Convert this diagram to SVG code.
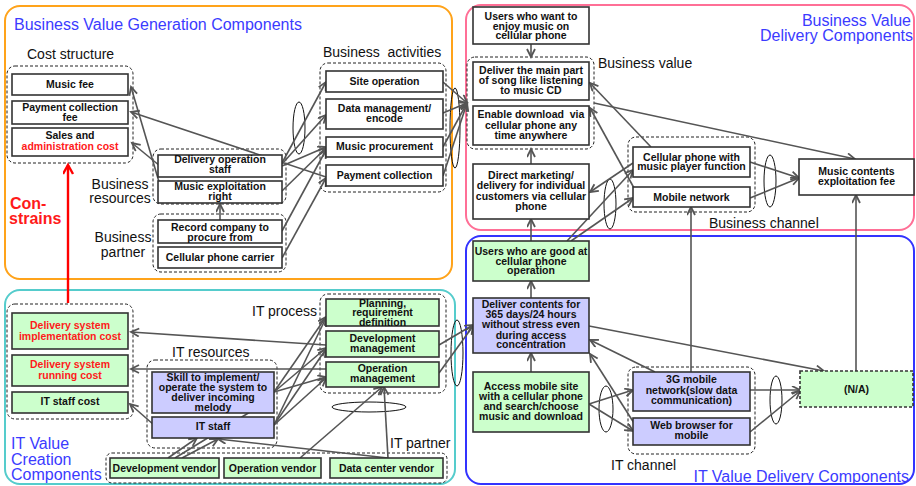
<svg xmlns="http://www.w3.org/2000/svg" width="916" height="486" viewBox="0 0 916 486">
<style>
.frame{fill:#fff;stroke-width:2}
.grp{fill:none;stroke:#222;stroke-width:1;stroke-dasharray:3,2}
.box{fill:#fff;stroke:#333;stroke-width:1.6}
.gr{fill:#ccffcc}
.bl{fill:#ccccff}
.t{font-family:"Liberation Sans",Arial,sans-serif;font-weight:bold;font-size:10.5px;text-anchor:middle;fill:#111}
.red{fill:#ff1a1a}
.lbl{font-family:"Liberation Sans",Arial,sans-serif;font-size:14px;fill:#111}
.ttl{font-family:"Liberation Sans",Arial,sans-serif;font-size:16px;fill:#3b3bff}
.c{fill:none;stroke:#555;stroke-width:1.6}
.e{fill:none;stroke:#111;stroke-width:1}
</style>
<defs>
<marker id="a" markerUnits="userSpaceOnUse" markerWidth="12" markerHeight="12" refX="9" refY="4.5" orient="auto">
<path d="M1,0.5 L9,4.5 L1,8.5" fill="none" stroke="#555" stroke-width="1.8"/>
</marker>
<marker id="ar" markerUnits="userSpaceOnUse" markerWidth="14" markerHeight="14" refX="10" refY="5.5" orient="auto">
<path d="M1,0.5 L10,5.5 L1,10.5" fill="none" stroke="#ff0000" stroke-width="2.4"/>
</marker>
</defs>

<g id="frames">
<rect class="frame" x="5" y="6" width="447" height="273" rx="15" stroke="#ffa31a"/>
<rect class="frame" x="466" y="5" width="448" height="225" rx="15" stroke="#ff6f96"/>
<rect class="frame" x="5" y="290" width="450" height="194" rx="15" stroke="#55cccc"/>
<rect class="frame" x="466" y="236" width="448" height="248" rx="15" stroke="#3333ff"/>
<text class="ttl" x="14" y="30">Business Value Generation Components</text>
<text class="ttl" x="911" y="26" text-anchor="end">Business Value</text>
<text class="ttl" x="913" y="41" text-anchor="end">Delivery Components</text>
<text class="ttl" x="11" y="449">IT Value</text>
<text class="ttl" x="11" y="465">Creation</text>
<text class="ttl" x="11" y="480">Components</text>
<text class="ttl" x="909" y="482" text-anchor="end">IT Value Delivery Components</text>
</g>

<g id="groups">
<rect class="grp" x="7" y="66" width="126" height="97" rx="8"/>
<rect class="grp" x="153" y="149" width="133" height="55" rx="8"/>
<rect class="grp" x="153" y="214" width="133" height="58" rx="8"/>
<rect class="grp" x="320" y="63" width="126" height="129" rx="8"/>
<rect class="grp" x="467" y="57" width="127" height="92" rx="8"/>
<rect class="grp" x="628" y="137" width="127" height="75" rx="8"/>
<rect class="grp" x="7" y="304" width="126" height="115" rx="8"/>
<rect class="grp" x="147" y="360" width="130" height="88" rx="8"/>
<rect class="grp" x="320" y="294" width="126" height="99" rx="8"/>
<rect class="grp" x="106" y="453" width="341" height="30" rx="6"/>
<rect class="grp" x="628" y="367" width="127" height="87" rx="8"/>
<text class="lbl" x="27" y="59">Cost structure</text>
<text class="lbl" x="120" y="189" text-anchor="middle">Business</text>
<text class="lbl" x="120" y="203" text-anchor="middle">resources</text>
<text class="lbl" x="123" y="242" text-anchor="middle">Business</text>
<text class="lbl" x="123" y="257" text-anchor="middle">partner</text>
<text class="lbl" x="323" y="57" xml:space="preserve">Business  activities</text>
<text class="lbl" x="598" y="68">Business value</text>
<text class="lbl" x="709" y="228">Business channel</text>
<text class="lbl" x="252" y="316">IT process</text>
<text class="lbl" x="172" y="357">IT resources</text>
<text class="lbl" x="390" y="448">IT partner</text>
<text class="lbl" x="611" y="470">IT channel</text>
</g>

<g id="ellipses">
<ellipse class="e" cx="299" cy="128" rx="6" ry="26"/>
<ellipse class="e" cx="455" cy="128" rx="5" ry="40"/>
<ellipse class="e" cx="610" cy="204" rx="6" ry="25"/>
<ellipse class="e" cx="770" cy="181" rx="6" ry="26"/>
<ellipse class="e" cx="606" cy="409" rx="7" ry="23"/>
<ellipse class="e" cx="776" cy="400" rx="6" ry="24"/>
<ellipse class="e" cx="369" cy="407" rx="37" ry="5"/>
<ellipse class="e" cx="457" cy="353" rx="6" ry="33"/>
</g>

<g id="connectors">
<line class="c" x1="162" y1="192" x2="131" y2="87" marker-end="url(#a)"/>
<line class="c" x1="160" y1="166" x2="132" y2="143" marker-end="url(#a)"/>
<line class="c" x1="326" y1="177" x2="131" y2="112" marker-end="url(#a)"/>
<line class="c" x1="282" y1="163" x2="326" y2="82" marker-end="url(#a)"/>
<line class="c" x1="282" y1="164" x2="326" y2="115" marker-end="url(#a)"/>
<line class="c" x1="282" y1="166" x2="326" y2="147" marker-end="url(#a)"/>
<line class="c" x1="282" y1="191" x2="326" y2="148" marker-end="url(#a)"/>
<line class="c" x1="282" y1="231" x2="326" y2="150" marker-end="url(#a)"/>
<line class="c" x1="282" y1="258" x2="326" y2="178" marker-end="url(#a)"/>
<line class="c" x1="220" y1="220" x2="220" y2="204" marker-end="url(#a)"/>
<line class="c" x1="443" y1="82" x2="467" y2="103" marker-end="url(#a)"/>
<line class="c" x1="443" y1="113" x2="467" y2="103" marker-end="url(#a)"/>
<line class="c" x1="443" y1="147" x2="467" y2="103" marker-end="url(#a)"/>
<line class="c" x1="443" y1="176" x2="467" y2="103" marker-end="url(#a)"/>
<line x1="68" y1="303" x2="68" y2="165" stroke="#ff0000" stroke-width="2.4" marker-end="url(#ar)"/>

<line class="c" x1="531" y1="44" x2="531" y2="57" marker-end="url(#a)"/>
<line class="c" x1="531" y1="164" x2="531" y2="149" marker-end="url(#a)"/>
<line class="c" x1="651" y1="147" x2="590" y2="83" marker-end="url(#a)"/>
<line class="c" x1="634" y1="188" x2="590" y2="108" marker-end="url(#a)"/>
<line class="c" x1="594" y1="103" x2="855" y2="159" marker-end="url(#a)"/>
<line class="c" x1="633" y1="163" x2="590" y2="192" marker-end="url(#a)"/>
<line class="c" x1="750" y1="162" x2="799" y2="178" marker-end="url(#a)"/>
<line class="c" x1="750" y1="198" x2="799" y2="178" marker-end="url(#a)"/>
<line class="c" x1="567" y1="241" x2="633" y2="170" marker-end="url(#a)"/>
<line class="c" x1="571" y1="241" x2="633" y2="198" marker-end="url(#a)"/>
<line class="c" x1="691" y1="372" x2="691" y2="207" marker-end="url(#a)"/>
<line class="c" x1="856" y1="371" x2="856" y2="195" marker-end="url(#a)"/>
<line class="c" x1="531" y1="241" x2="531" y2="219" marker-end="url(#a)"/>

<line class="c" x1="531" y1="298" x2="531" y2="281" marker-end="url(#a)"/>
<line class="c" x1="531" y1="372" x2="531" y2="353" marker-end="url(#a)"/>
<line class="c" x1="589" y1="404" x2="633" y2="390" marker-end="url(#a)"/>
<line class="c" x1="589" y1="404" x2="633" y2="431" marker-end="url(#a)"/>
<line class="c" x1="655" y1="372" x2="590" y2="340" marker-end="url(#a)"/>
<line class="c" x1="634" y1="423" x2="590" y2="354" marker-end="url(#a)"/>
<line class="c" x1="589" y1="326" x2="824" y2="371" marker-end="url(#a)"/>
<line class="c" x1="750" y1="390" x2="800" y2="390" marker-end="url(#a)"/>
<line class="c" x1="750" y1="432" x2="800" y2="391" marker-end="url(#a)"/>

<line class="c" x1="326" y1="345" x2="131" y2="332" marker-end="url(#a)"/>
<line class="c" x1="326" y1="369" x2="131" y2="369" marker-end="url(#a)"/>
<line class="c" x1="154" y1="425" x2="130" y2="404" marker-end="url(#a)"/>
<line class="c" x1="274" y1="392" x2="326" y2="317" marker-end="url(#a)"/>
<line class="c" x1="274" y1="392" x2="326" y2="348" marker-end="url(#a)"/>
<line class="c" x1="274" y1="392" x2="326" y2="377" marker-end="url(#a)"/>
<line class="c" x1="274" y1="425" x2="326" y2="318" marker-end="url(#a)"/>
<line class="c" x1="274" y1="425" x2="326" y2="349" marker-end="url(#a)"/>
<line class="c" x1="274" y1="425" x2="326" y2="378" marker-end="url(#a)"/>
<line class="c" x1="439" y1="345" x2="473" y2="325" marker-end="url(#a)"/>
<line class="c" x1="439" y1="373" x2="473" y2="326" marker-end="url(#a)"/>
<line class="c" x1="168" y1="458" x2="197" y2="438" marker-end="url(#a)"/>
<line class="c" x1="182" y1="458" x2="218" y2="439" marker-end="url(#a)"/>
<line class="c" x1="175" y1="458" x2="250" y2="412"/>
<line class="c" x1="388" y1="458" x2="218" y2="439" marker-end="url(#a)"/>
<line class="c" x1="300" y1="458" x2="382" y2="387" marker-end="url(#a)"/>
<line class="c" x1="388" y1="458" x2="384" y2="387" marker-end="url(#a)"/>
</g>

<text x="10" y="209" font-family="Liberation Sans,Arial,sans-serif" font-weight="bold" font-size="16" fill="#ff1a1a">Con-</text>
<text x="9" y="224" font-family="Liberation Sans,Arial,sans-serif" font-weight="bold" font-size="16" fill="#ff1a1a">strains</text>

<g id="music-fee"><rect class="box" x="12" y="74" width="116" height="21"/><text class="t" x="70" y="88">Music fee</text></g>
<g id="payment-collection-fee"><rect class="box" x="12" y="101" width="116" height="23"/><text class="t" x="70" y="111">Payment collection</text><text class="t" x="70" y="121">fee</text></g>
<g id="sales-admin-cost"><rect class="box" x="12" y="128" width="116" height="28"/><text class="t" x="70" y="139">Sales and</text><text class="t red" x="70" y="150">administration cost</text></g>

<g id="delivery-operation-staff"><rect class="box" x="158" y="155" width="124" height="22"/><text class="t" x="220" y="163">Delivery operation</text><text class="t" x="220" y="173">staff</text></g>
<g id="music-exploitation-right"><rect class="box" x="158" y="181" width="124" height="22"/><text class="t" x="220" y="190">Music exploitation</text><text class="t" x="220" y="200">right</text></g>
<g id="record-company"><rect class="box" x="158" y="220" width="124" height="23"/><text class="t" x="220" y="231">Record company to</text><text class="t" x="220" y="241">procure from</text></g>
<g id="cellular-phone-carrier"><rect class="box" x="158" y="247" width="124" height="21"/><text class="t" x="220" y="261">Cellular phone carrier</text></g>

<g id="site-operation"><rect class="box" x="326" y="71" width="117" height="21"/><text class="t" x="384.5" y="85">Site operation</text></g>
<g id="data-management"><rect class="box" x="326" y="99" width="117" height="30"/><text class="t" x="384.5" y="112">Data management/</text><text class="t" x="384.5" y="122">encode</text></g>
<g id="music-procurement"><rect class="box" x="326" y="137" width="117" height="20"/><text class="t" x="384.5" y="150">Music procurement</text></g>
<g id="payment-collection"><rect class="box" x="326" y="165" width="117" height="21"/><text class="t" x="384.5" y="179">Payment collection</text></g>

<g id="users-want"><rect class="box" x="473" y="7" width="116" height="37"/><text class="t" x="531" y="20">Users who want to</text><text class="t" x="531" y="29.5">enjoy music on</text><text class="t" x="531" y="39">cellular phone</text></g>
<g id="deliver-main-part"><rect class="box" x="473" y="62" width="116" height="38"/><text class="t" x="531" y="74">Deliver the main part</text><text class="t" x="531" y="84">of song like listening</text><text class="t" x="531" y="94">to music CD</text></g>
<g id="enable-download"><rect class="box" x="473" y="106" width="116" height="39"/><text class="t" x="531" y="118" xml:space="preserve">Enable download  via</text><text class="t" x="531" y="129">cellular phone any</text><text class="t" x="531" y="139">time anywhere</text></g>
<g id="direct-marketing"><rect class="box" x="473" y="164" width="116" height="55"/><text class="t" x="531" y="179">Direct marketing/</text><text class="t" x="531" y="189">delivery for individual</text><text class="t" x="531" y="199.5">customers via cellular</text><text class="t" x="531" y="210">phone</text></g>
<g id="cellular-phone-player"><rect class="box" x="633" y="147" width="117" height="30"/><text class="t" x="691.5" y="161">Cellular phone with</text><text class="t" x="691.5" y="170">music player function</text></g>
<g id="mobile-network"><rect class="box" x="633" y="187" width="117" height="20"/><text class="t" x="691.5" y="201">Mobile network</text></g>
<g id="music-contents-fee"><rect class="box" x="799" y="159" width="115" height="36"/><text class="t" x="856.5" y="175">Music contents</text><text class="t" x="856.5" y="185">exploitation fee</text></g>

<g id="users-good"><rect class="box gr" x="473" y="241" width="116" height="40"/><text class="t" x="531" y="254.5">Users who are good at</text><text class="t" x="531" y="264.5">cellular phone</text><text class="t" x="531" y="274">operation</text></g>
<g id="deliver-contents"><rect class="box bl" x="473" y="298" width="116" height="55"/><text class="t" x="531" y="308">Deliver contents for</text><text class="t" x="531" y="318">365 days/24 hours</text><text class="t" x="531" y="328">without stress even</text><text class="t" x="531" y="339">during access</text><text class="t" x="531" y="348">concentration</text></g>
<g id="access-mobile-site"><rect class="box gr" x="473" y="372" width="116" height="60"/><text class="t" x="531" y="389.5">Access mobile site</text><text class="t" x="531" y="399.5">with a cellular phone</text><text class="t" x="531" y="409.5">and search/choose</text><text class="t" x="531" y="420">music and download</text></g>
<g id="3g-network"><rect class="box bl" x="633" y="372" width="117" height="39"/><text class="t" x="691.5" y="383">3G mobile</text><text class="t" x="691.5" y="394">network(slow data</text><text class="t" x="691.5" y="404">communication)</text></g>
<g id="web-browser"><rect class="box bl" x="633" y="418" width="117" height="27"/><text class="t" x="691.5" y="429">Web browser for</text><text class="t" x="691.5" y="439">mobile</text></g>
<g id="na"><rect class="box gr" x="800" y="371" width="113" height="36" stroke-dasharray="3,2" stroke-width="1.2"/><text class="t" x="856.5" y="393">(N/A)</text></g>

<g id="impl-cost"><rect class="box gr" x="12" y="313" width="116" height="36"/><text class="t red" x="70" y="329">Delivery system</text><text class="t red" x="70" y="340">implementation cost</text></g>
<g id="running-cost"><rect class="box gr" x="12" y="355" width="116" height="31"/><text class="t red" x="70" y="368">Delivery system</text><text class="t red" x="70" y="378.5">running cost</text></g>
<g id="it-staff-cost"><rect class="box gr" x="12" y="392" width="116" height="21"/><text class="t" x="70" y="405">IT staff cost</text></g>
<g id="skill"><rect class="box bl" x="152" y="372" width="122" height="41"/><text class="t" x="213" y="380.5">Skill to implement/</text><text class="t" x="213" y="390.5">operate the system to</text><text class="t" x="213" y="400.5">deliver incoming</text><text class="t" x="213" y="411">melody</text></g>
<g id="it-staff"><rect class="box bl" x="152" y="417" width="122" height="21"/><text class="t" x="213" y="430">IT staff</text></g>
<g id="planning"><rect class="box gr" x="326" y="299" width="113" height="27"/><text class="t" x="382.5" y="306.5">Planning,</text><text class="t" x="382.5" y="316">requirement</text><text class="t" x="382.5" y="325.5">definition</text></g>
<g id="development-management"><rect class="box gr" x="326" y="331" width="113" height="26"/><text class="t" x="382.5" y="342">Development</text><text class="t" x="382.5" y="352">management</text></g>
<g id="operation-management"><rect class="box gr" x="326" y="362" width="113" height="25"/><text class="t" x="382.5" y="372">Operation</text><text class="t" x="382.5" y="382">management</text></g>
<g id="development-vendor"><rect class="box gr" x="110" y="458" width="109" height="20"/><text class="t" x="164.5" y="472">Development vendor</text></g>
<g id="operation-vendor"><rect class="box gr" x="224" y="458" width="97" height="20"/><text class="t" x="272.5" y="472">Operation vendor</text></g>
<g id="data-center-vendor"><rect class="box gr" x="330" y="458" width="113" height="20"/><text class="t" x="386.5" y="472">Data center vendor</text></g>
</svg>
